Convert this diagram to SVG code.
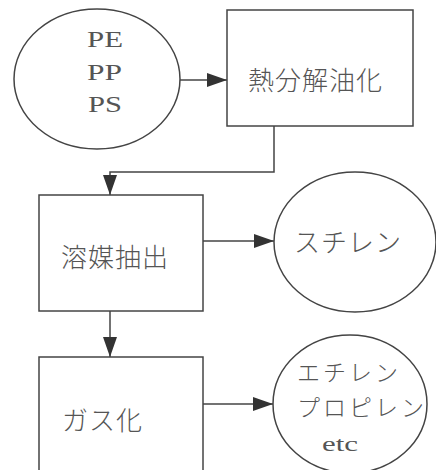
<svg xmlns="http://www.w3.org/2000/svg" width="436" height="470" viewBox="0 0 436 470">
<defs>
<marker id="ah" markerUnits="userSpaceOnUse" markerWidth="20" markerHeight="14" refX="20" refY="7" orient="auto">
<path d="M0,0 L20,7 L0,14 z" fill="#333"/>
</marker>
<style>
.shape{fill:#fff;stroke:#444;stroke-width:1.5}
.conn{fill:none;stroke:#444;stroke-width:1.5;marker-end:url(#ah)}
.jp{font-family:"Noto Sans CJK JP","Noto Sans",sans-serif;font-size:26px;fill:#555;font-weight:300;letter-spacing:1px}
.jps{font-family:"Noto Sans CJK JP","Noto Sans",sans-serif;font-size:23px;fill:#555;font-weight:300;letter-spacing:3px}
.lat{font-family:"Liberation Serif","DejaVu Serif",serif;font-size:23px;fill:#555}
</style>
</defs>
<rect width="436" height="470" fill="#fff"/>
<g id="connectors">
<path class="conn" d="M180,80 H227"/>
<path class="conn" d="M274,126 V172 H110 V195"/>
<path class="conn" d="M203,241 H274"/>
<path class="conn" d="M110,311 V357"/>
<path class="conn" d="M203,404 H273"/>
</g>
<g id="n-pe">
<ellipse class="shape" cx="97" cy="79" rx="83" ry="70"/>
<text class="lat" x="87" y="47" textLength="36" lengthAdjust="spacingAndGlyphs">PE</text>
<text class="lat" x="87" y="80" textLength="35" lengthAdjust="spacingAndGlyphs">PP</text>
<text class="lat" x="88" y="112" textLength="34" lengthAdjust="spacingAndGlyphs">PS</text>
</g>
<g id="n-pyro">
<rect class="shape" x="227" y="10" width="186" height="116"/>
<text class="jp" x="248" y="90">熱分解油化</text>
</g>
<g id="n-solv">
<rect class="shape" x="39" y="195" width="164" height="116"/>
<text class="jp" x="61" y="267">溶媒抽出</text>
</g>
<g id="n-styrene">
<ellipse class="shape" cx="355" cy="242" rx="81" ry="70"/>
<text class="jp" x="294" y="252">スチレン</text>
</g>
<g id="n-gas">
<rect class="shape" x="39" y="357" width="164" height="130"/>
<text class="jp" x="62" y="430">ガス化</text>
</g>
<g id="n-ethylene">
<ellipse class="shape" cx="350" cy="404" rx="77" ry="69"/>
<text class="jps" x="297" y="381">エチレン</text>
<text class="jps" x="297" y="416">プロピレン</text>
<text class="lat" x="322" y="451" textLength="36" lengthAdjust="spacingAndGlyphs" style="font-size:21px">etc</text>
</g>
</svg>
